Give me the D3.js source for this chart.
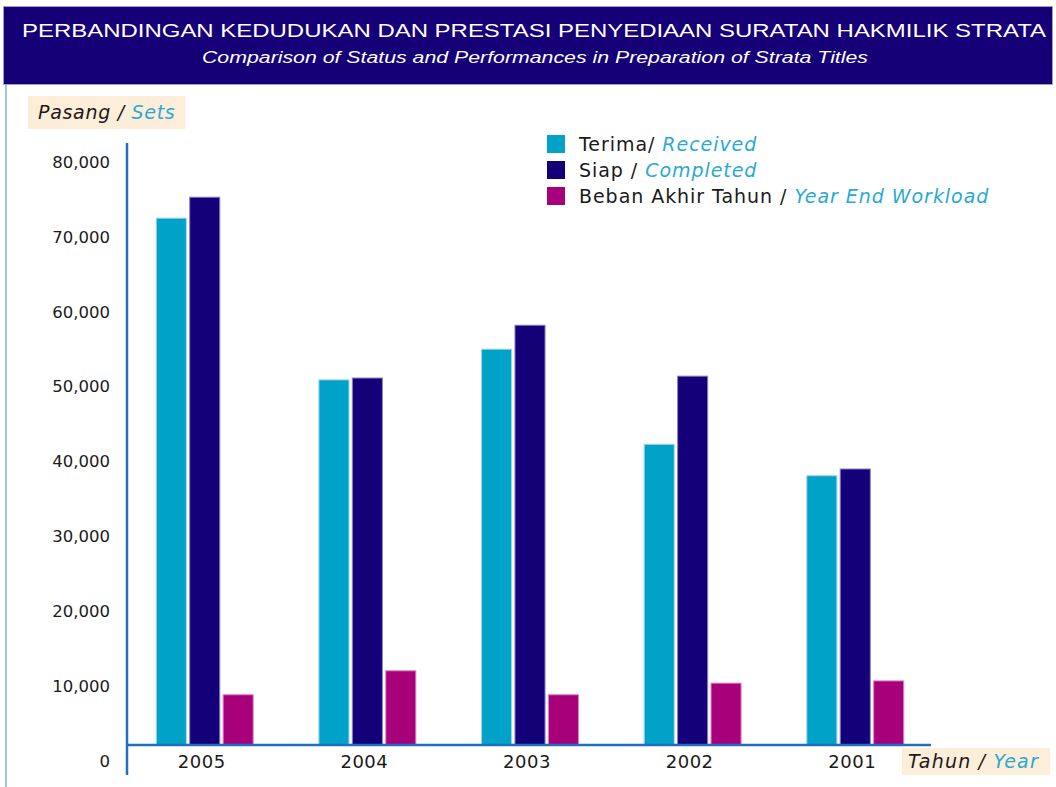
<!DOCTYPE html>
<meta charset="utf-8">
<style>
  body { margin: 0; background: #fff; }
  svg { display: block; }
  text { font-family: "DejaVu Sans", sans-serif; }
</style>
<body>
<script src="https://d3js.org/d3.v7.min.js"></script>
<script>
// data
var years = ["2005", "2004", "2003", "2002", "2001"];
var received  = [72500, 50900, 55000, 42300, 38100];
var completed = [75300, 51150, 58200, 51400, 39000];
var workload  = [8850, 12050, 8850, 10400, 10700];
var yTicks = [0, 10000, 20000, 30000, 40000, 50000, 60000, 70000, 80000];

var seriesKeys = ["received", "completed", "workload"];
var seriesMy = ["Terima/ ", "Siap / ", "Beban Akhir Tahun / "];
var seriesEn = ["Received", "Completed", "Year End Workload"];
var colors = ["#00a2c7", "#140078", "#a8007b"];
var strokes = ["#9fd6ea", "#8d80c4", "#dd86c4"];

var width = 1056, height = 787,
    baseY = 745;

var svg = d3.select("body").append("svg")
    .attr("width", width)
    .attr("height", height);

// title banner
svg.append("rect")
    .attr("x", 3.5).attr("y", 6.5)
    .attr("width", 1049).attr("height", 78)
    .attr("fill", "#150078")
    .attr("stroke", "#a49bd0");

svg.append("text")
    .attr("x", 22).attr("y", 37)
    .attr("textLength", 1024)
    .attr("lengthAdjust", "spacingAndGlyphs")
    .style("font-family", "'Liberation Sans', Arial, sans-serif")
    .style("font-size", "19px")
    .attr("fill", "#fff")
    .text("PERBANDINGAN KEDUDUKAN DAN PRESTASI PENYEDIAAN SURATAN HAKMILIK STRATA");

svg.append("text")
    .attr("x", 202).attr("y", 63)
    .attr("textLength", 666)
    .attr("lengthAdjust", "spacingAndGlyphs")
    .style("font-family", "'Liberation Sans', Arial, sans-serif")
    .style("font-size", "16px")
    .style("font-style", "italic")
    .attr("fill", "#fff")
    .text("Comparison of Status and Performances in Preparation of Strata Titles");

// thin page border on the left
svg.append("line")
    .attr("x1", 6).attr("x2", 6)
    .attr("y1", 85).attr("y2", height)
    .attr("stroke", "#7fb0e0")
    .attr("stroke-width", 1.5);

// scales
var x = d3.scaleBand()
    .domain(years)
    .range([127, 933])
    .paddingInner(0.404)
    .paddingOuter(0.18);

var xSub = d3.scaleBand()
    .domain(seriesKeys)
    .range([0, x.bandwidth()])
    .paddingInner(0.1)
    .paddingOuter(0);

var y = d3.scaleLinear()
    .domain([0, 80000])
    .range([761, 162]);

// y axis labels
var yAxis = svg.append("g")
    .attr("transform", "translate(110,0)")
    .call(d3.axisLeft(y).tickValues(yTicks).tickSize(0).tickPadding(0).tickFormat(d3.format(",")));
yAxis.select(".domain").remove();
yAxis.selectAll("text")
    .style("font-family", "'DejaVu Sans', sans-serif")
    .style("font-size", "16.5px")
    .attr("fill", "#1a1a1a");

// bars
var rows = years.map(function(yr, i) {
  return { year: yr, values: [received[i], completed[i], workload[i]] };
});

var groups = svg.selectAll("g.year")
    .data(rows)
  .enter().append("g")
    .attr("class", "year")
    .attr("transform", function(d) { return "translate(" + x(d.year) + ",0)"; });

groups.selectAll("rect")
    .data(function(d) { return d.values.map(function(v, j) { return { key: seriesKeys[j], value: v, j: j }; }); })
  .enter().append("rect")
    .attr("x", function(d) { return xSub(d.key); })
    .attr("y", function(d) { return y(d.value); })
    .attr("width", xSub.bandwidth())
    .attr("height", function(d) { return baseY - y(d.value); })
    .attr("fill", function(d) { return colors[d.j]; })
    .attr("stroke", function(d) { return strokes[d.j]; })
    .attr("stroke-width", 1);

// axis lines
svg.append("line")
    .attr("x1", 127).attr("x2", 127)
    .attr("y1", 143).attr("y2", 775)
    .attr("stroke", "#1f6fc0")
    .attr("stroke-width", 2.5);

svg.append("line")
    .attr("x1", 126).attr("x2", 931)
    .attr("y1", baseY).attr("y2", baseY)
    .attr("stroke", "#1f6fc0")
    .attr("stroke-width", 2.5);

// year labels
var xAxis = svg.append("g")
    .attr("transform", "translate(-3," + baseY + ")")
    .call(d3.axisBottom(x).tickSize(0).tickPadding(10));
xAxis.select(".domain").remove();
xAxis.selectAll("text")
    .style("font-family", "'DejaVu Sans', sans-serif")
    .style("font-size", "18px")
    .style("letter-spacing", "0.5px")
    .attr("fill", "#1a1a1a");

// unit labels in cream boxes
function unitLabel(bx, by, bw, bh, tx, ty, my, en, ls) {
  svg.append("rect")
      .attr("x", bx).attr("y", by)
      .attr("width", bw).attr("height", bh)
      .attr("fill", "#fdeed9");
  var t = svg.append("text")
      .attr("x", tx).attr("y", ty)
      .style("font-size", "19px")
      .style("letter-spacing", ls)
      .style("font-style", "italic");
  t.append("tspan").attr("fill", "#1a1a1a").text(my);
  t.append("tspan").attr("fill", "#29a9d3").text(en);
}
unitLabel(28, 96, 157, 33, 38, 119, "Pasang / ", "Sets", "0.7px");
unitLabel(902, 748, 148, 27, 908, 768, "Tahun / ", "Year", "1.2px");

// legend
var legend = svg.selectAll("g.legend")
    .data(seriesKeys)
  .enter().append("g")
    .attr("class", "legend")
    .attr("transform", function(d, i) { return "translate(547," + (135 + i * 26) + ")"; });

legend.append("rect")
    .attr("width", 18).attr("height", 18)
    .attr("fill", function(d, i) { return colors[i]; });

var lt = legend.append("text")
    .attr("x", 32).attr("y", 16)
    .style("font-size", "19px")
    .style("letter-spacing", "0.95px");
lt.append("tspan")
    .attr("fill", "#1a1a1a")
    .text(function(d, i) { return seriesMy[i]; });
lt.append("tspan")
    .attr("fill", "#29a9d3")
    .style("font-style", "italic")
    .text(function(d, i) { return seriesEn[i]; });
</script>
</body>
</html>
